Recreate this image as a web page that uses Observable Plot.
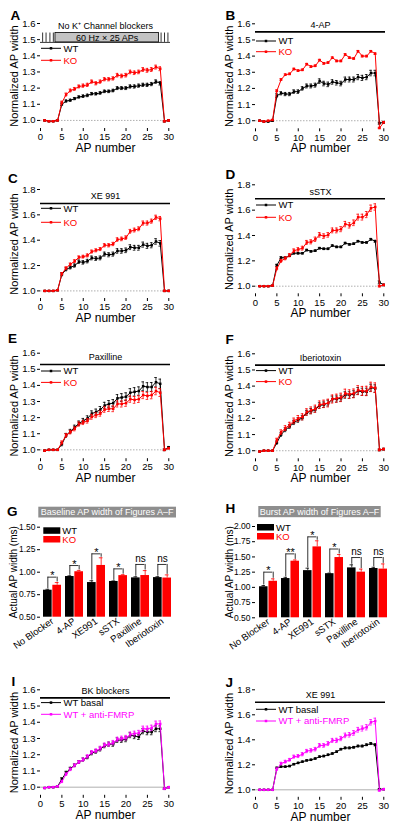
<!DOCTYPE html>
<html><head><meta charset="utf-8">
<script src="https://cdn.jsdelivr.net/npm/d3@7"></script>
<script src="https://cdn.jsdelivr.net/npm/@observablehq/plot@0.6"></script>
<style>
body{margin:0;background:#fff;}
#fig{position:relative;width:400px;height:827px;overflow:hidden;background:#fff;font-family:"Liberation Sans",Arial,sans-serif;}
</style></head><body><div id="fig"></div>
<script>
// ---------- data ----------
const apNumber = [1,2,3,4,5,6,7,8,9,10,11,12,13,14,15,16,17,18,19,20,21,22,23,24,25,26,27,28,29,30];
const xTicks = [0,5,10,15,20,25,30];
const yTicks16 = [1.0,1.1,1.2,1.3,1.4,1.5,1.6];
const yTicks18 = [1.0,1.2,1.4,1.6,1.8];

const A_WT = [1.0,0.995,0.995,1.0,1.10,1.12,1.125,1.135,1.145,1.15,1.155,1.165,1.165,1.17,1.18,1.18,1.185,1.20,1.20,1.20,1.21,1.21,1.215,1.22,1.22,1.225,1.24,1.23,0.995,1.0];
const A_WT_err = [0.003,0.003,0.003,0.003,0.008,0.007,0.007,0.007,0.007,0.008,0.008,0.008,0.008,0.008,0.008,0.008,0.008,0.009,0.009,0.009,0.01,0.01,0.01,0.01,0.01,0.01,0.011,0.011,0.004,0.004];
const A_KO = [1.0,0.995,0.995,1.0,1.11,1.16,1.185,1.195,1.21,1.215,1.22,1.24,1.23,1.24,1.255,1.255,1.26,1.28,1.275,1.28,1.30,1.295,1.30,1.315,1.31,1.315,1.33,1.32,0.995,1.0];
const A_KO_err = [0.003,0.003,0.003,0.003,0.009,0.009,0.009,0.009,0.009,0.01,0.01,0.01,0.01,0.01,0.01,0.01,0.01,0.011,0.011,0.011,0.011,0.011,0.011,0.012,0.012,0.012,0.012,0.012,0.004,0.004];
const A_stimTicks = [0.5,1.3,2.2,3.0,28.2,29.0,29.8];
const A_stimBox = [{x1:3.5, x2:27.7, y1:1.483, y2:1.541, label:"60 Hz \u00d7 25 APs"}];

const B_WT = [1.0,0.995,0.995,1.0,1.155,1.17,1.165,1.165,1.18,1.18,1.20,1.215,1.215,1.22,1.245,1.23,1.225,1.24,1.235,1.23,1.255,1.255,1.255,1.27,1.265,1.27,1.295,1.295,0.985,0.99];
const B_WT_err = [0.004,0.004,0.004,0.004,0.012,0.01,0.01,0.01,0.011,0.011,0.011,0.012,0.012,0.012,0.014,0.014,0.014,0.014,0.014,0.014,0.015,0.015,0.015,0.016,0.016,0.016,0.017,0.017,0.006,0.006];
const B_KO = [1.0,0.995,1.0,1.005,1.185,1.255,1.285,1.29,1.32,1.31,1.315,1.35,1.335,1.34,1.375,1.355,1.36,1.39,1.37,1.37,1.41,1.39,1.385,1.43,1.40,1.40,1.43,1.415,0.955,0.99];
const B_KO_err = [0.003,0.003,0.003,0.003,0.006,0.005,0.005,0.005,0.005,0.005,0.005,0.005,0.005,0.005,0.005,0.005,0.005,0.005,0.005,0.005,0.005,0.005,0.005,0.005,0.005,0.005,0.005,0.005,0.004,0.004];

const C_WT = [1.0,1.0,1.0,1.005,1.13,1.17,1.185,1.20,1.23,1.225,1.235,1.26,1.255,1.26,1.29,1.285,1.29,1.315,1.315,1.32,1.345,1.34,1.34,1.365,1.355,1.36,1.39,1.375,1.0,1.0];
const C_WT_err = [0.003,0.003,0.003,0.003,0.012,0.012,0.012,0.013,0.014,0.014,0.014,0.015,0.015,0.015,0.016,0.016,0.016,0.018,0.018,0.018,0.019,0.019,0.019,0.02,0.02,0.02,0.022,0.022,0.004,0.004];
const C_KO = [1.0,1.0,1.0,1.005,1.135,1.18,1.21,1.235,1.265,1.27,1.28,1.31,1.32,1.33,1.36,1.36,1.37,1.405,1.41,1.42,1.47,1.48,1.49,1.535,1.535,1.55,1.58,1.57,1.0,1.0];
const C_KO_err = [0.003,0.003,0.003,0.003,0.01,0.01,0.01,0.011,0.011,0.011,0.012,0.012,0.012,0.012,0.013,0.013,0.013,0.014,0.014,0.014,0.015,0.015,0.015,0.016,0.016,0.016,0.017,0.017,0.004,0.004];

const D_WT = [1.0,1.0,1.0,1.005,1.165,1.225,1.225,1.24,1.26,1.26,1.26,1.285,1.275,1.28,1.30,1.295,1.295,1.32,1.31,1.31,1.34,1.33,1.335,1.355,1.345,1.345,1.37,1.355,1.03,1.01];
const D_WT_err = [0.003,0.003,0.003,0.003,0.008,0.007,0.007,0.006,0.006,0.006,0.006,0.006,0.006,0.006,0.006,0.006,0.006,0.006,0.006,0.006,0.006,0.006,0.006,0.006,0.006,0.006,0.007,0.007,0.012,0.006];
const D_KO = [1.0,1.0,1.0,1.005,1.14,1.20,1.22,1.245,1.28,1.29,1.30,1.345,1.35,1.37,1.405,1.395,1.405,1.44,1.44,1.45,1.49,1.48,1.50,1.545,1.545,1.565,1.615,1.625,1.0,1.01];
const D_KO_err = [0.003,0.003,0.003,0.003,0.012,0.012,0.012,0.013,0.014,0.014,0.015,0.016,0.016,0.017,0.018,0.018,0.018,0.019,0.019,0.02,0.021,0.021,0.022,0.023,0.023,0.024,0.025,0.025,0.005,0.005];

const E_WT = [0.995,1.0,1.0,1.0,1.035,1.09,1.115,1.14,1.165,1.18,1.195,1.225,1.235,1.25,1.275,1.285,1.29,1.32,1.325,1.33,1.355,1.36,1.365,1.395,1.39,1.39,1.42,1.41,1.0,1.015];
const E_WT_err = [0.003,0.003,0.003,0.003,0.01,0.012,0.012,0.013,0.014,0.015,0.016,0.017,0.018,0.019,0.02,0.021,0.022,0.023,0.024,0.024,0.025,0.026,0.026,0.027,0.027,0.028,0.029,0.029,0.005,0.006];
const E_KO = [0.995,1.0,1.0,1.0,1.045,1.09,1.11,1.13,1.16,1.17,1.18,1.205,1.215,1.225,1.25,1.255,1.255,1.285,1.285,1.29,1.315,1.31,1.315,1.34,1.335,1.34,1.365,1.355,1.0,1.01];
const E_KO_err = [0.003,0.003,0.003,0.003,0.01,0.011,0.011,0.012,0.013,0.013,0.014,0.015,0.015,0.016,0.017,0.017,0.018,0.019,0.019,0.02,0.02,0.021,0.021,0.022,0.022,0.023,0.023,0.024,0.005,0.005];

const F_WT = [0.995,1.0,1.0,1.0,1.05,1.10,1.13,1.15,1.175,1.19,1.205,1.235,1.245,1.255,1.28,1.285,1.295,1.32,1.32,1.325,1.345,1.345,1.35,1.37,1.365,1.365,1.39,1.385,1.005,1.01];
const F_WT_err = [0.003,0.003,0.003,0.003,0.01,0.011,0.012,0.012,0.013,0.014,0.014,0.015,0.016,0.016,0.017,0.017,0.018,0.018,0.019,0.019,0.02,0.02,0.021,0.021,0.022,0.022,0.022,0.023,0.005,0.005];
const F_KO = [0.995,1.0,1.0,1.0,1.065,1.115,1.14,1.16,1.185,1.20,1.21,1.24,1.25,1.26,1.285,1.29,1.295,1.32,1.325,1.33,1.355,1.35,1.355,1.375,1.37,1.37,1.395,1.39,1.005,1.01];
const F_KO_err = [0.003,0.003,0.003,0.003,0.012,0.014,0.015,0.016,0.017,0.018,0.019,0.02,0.021,0.022,0.023,0.023,0.024,0.025,0.025,0.026,0.026,0.027,0.027,0.028,0.028,0.029,0.029,0.03,0.005,0.005];

const I_WT = [0.995,1.0,1.0,1.005,1.05,1.09,1.115,1.135,1.155,1.17,1.185,1.21,1.22,1.235,1.255,1.265,1.265,1.29,1.29,1.295,1.32,1.315,1.31,1.345,1.34,1.34,1.36,1.36,0.99,1.0];
const I_WT_err = [0.003,0.003,0.003,0.003,0.008,0.008,0.008,0.009,0.009,0.01,0.01,0.011,0.011,0.012,0.012,0.013,0.013,0.014,0.014,0.015,0.015,0.016,0.016,0.016,0.017,0.017,0.018,0.018,0.004,0.004];
const I_FM = [0.995,1.0,1.0,1.005,1.035,1.08,1.11,1.135,1.155,1.17,1.19,1.215,1.225,1.24,1.26,1.265,1.275,1.295,1.30,1.305,1.325,1.33,1.335,1.36,1.36,1.365,1.39,1.39,0.99,1.0];
const I_FM_err = [0.003,0.003,0.003,0.003,0.007,0.008,0.008,0.009,0.009,0.01,0.01,0.011,0.011,0.012,0.012,0.013,0.013,0.013,0.014,0.014,0.015,0.015,0.015,0.016,0.016,0.017,0.017,0.018,0.004,0.004];

const J_WT = [1.0,1.0,1.0,1.0,1.175,1.185,1.185,1.19,1.205,1.215,1.225,1.235,1.24,1.25,1.265,1.27,1.28,1.29,1.305,1.325,1.335,1.335,1.34,1.35,1.35,1.36,1.37,1.36,1.005,1.005];
const J_WT_err = [0.003,0.003,0.003,0.003,0.006,0.005,0.005,0.005,0.005,0.005,0.005,0.005,0.005,0.005,0.006,0.006,0.006,0.006,0.006,0.006,0.007,0.007,0.007,0.007,0.007,0.007,0.008,0.008,0.004,0.004];
const J_FM = [1.0,1.0,1.0,1.0,1.165,1.21,1.225,1.24,1.265,1.27,1.285,1.31,1.315,1.325,1.355,1.355,1.37,1.395,1.395,1.41,1.435,1.44,1.455,1.48,1.49,1.50,1.54,1.55,0.995,1.005];
const J_FM_err = [0.003,0.003,0.003,0.003,0.01,0.01,0.011,0.011,0.012,0.012,0.013,0.013,0.014,0.014,0.015,0.015,0.016,0.016,0.017,0.017,0.018,0.018,0.019,0.019,0.02,0.021,0.022,0.023,0.005,0.005];

const cats = ["No Blocker","4-AP","XE991","sSTX","Paxilline","Iberiotoxin"];
const G_WT = [0.80,0.952,0.885,0.897,0.937,0.94];
const G_WT_err = [0.01,0.008,0.02,0.006,0.012,0.01];
const G_KO = [0.855,1.005,1.075,0.962,0.963,0.935];
const G_KO_err = [0.03,0.015,0.085,0.01,0.055,0.035];
const G_sig = ["*","*","*","*","ns","ns"];
const G_bracket = [0.945,1.074,1.204,1.037,1.086,1.086];
const G_yTicks = [0.50,0.75,1.00,1.25,1.50];

const H_WT = [1.01,1.145,1.275,1.225,1.32,1.31];
const H_WT_err = [0.02,0.02,0.04,0.01,0.05,0.02];
const H_KO = [1.10,1.43,1.665,1.49,1.25,1.30];
const H_KO_err = [0.04,0.02,0.1,0.05,0.05,0.085];
const H_sig = ["*","**","*","*","ns","ns"];
const H_bracket = [1.25,1.55,1.83,1.63,1.49,1.49];
const H_yTicks = [0.50,0.75,1.00,1.25,1.50,1.75,2.00];

// ---------- drawing ----------
const RED = "#ff0000", MAG = "#ff00ff", BLK = "#000000";
const FONT = "'Liberation Sans', Arial, Helvetica, sans-serif";
const fig = document.getElementById("fig");
function place(el, left, top) {
  el.style.position = "absolute"; el.style.left = left + "px"; el.style.top = top + "px";
  fig.appendChild(el);
}

function linePanel(c) {
  const marks = [];
  marks.push(Plot.ruleY([1.0], {stroke: "#9a9a9a", strokeWidth: 0.8, strokeDasharray: c.dashed ? "1.5,1.5" : null}));
  if (c.stimBox) {
    const b = c.stimBox[0];
    marks.push(
      Plot.ruleY([b.y1], {stroke: BLK, strokeWidth: 0.8}),
      Plot.ruleX(c.stimTicks, {x: d => d, y1: b.y1, y2: b.y2, stroke: BLK, strokeWidth: 0.8}),
      Plot.rect(c.stimBox, {x1: "x1", x2: "x2", y1: "y1", y2: "y2", fill: "#c4c4c4", stroke: BLK, strokeWidth: 0.8}),
      Plot.text(c.stimBox, {x: d => (d.x1 + d.x2) / 2, y: d => (d.y1 + d.y2) / 2, text: "label", fontSize: 9}),
      Plot.text([c.stimLabel], {y: b.y2, frameAnchor: "middle", dy: -7, text: d => d, fontSize: 9})
    );
  } else {
    marks.push(
      Plot.ruleY([c.stimLevel], {stroke: BLK, strokeWidth: 1.6}),
      Plot.text([c.stimLabel], {y: c.stimLevel, frameAnchor: "middle", dy: -7, text: d => d, fontSize: 9})
    );
  }
  for (const s of c.series) {
    const rows = apNumber.map((x, i) => ({x, y: s.values[i], e: s.err[i]}));
    marks.push(
      Plot.ruleX(rows, {x: "x", y1: d => d.y - d.e, y2: d => d.y + d.e, stroke: s.color, strokeWidth: 0.8}),
      Plot.ruleY(rows, {x1: d => d.x - 0.3, x2: d => d.x + 0.3, y: d => d.y + d.e, stroke: s.color, strokeWidth: 0.8}),
      Plot.ruleY(rows, {x1: d => d.x - 0.3, x2: d => d.x + 0.3, y: d => d.y - d.e, stroke: s.color, strokeWidth: 0.8}),
      Plot.line(rows, {x: "x", y: "y", stroke: s.color, strokeWidth: 1}),
      Plot.dot(rows, {x: "x", y: "y", fill: s.color, symbol: "square", r: 1.4})
    );
  }
  marks.push(
    Plot.axisX({ticks: xTicks, tickSize: 3, tickPadding: 2, fontSize: 9.5, label: null, line: true}),
    Plot.axisY({ticks: c.yTicks, tickSize: 3, tickPadding: 2, fontSize: 9.5, label: null, line: true, tickFormat: d3.format(".1f")}),
    Plot.text(["AP number"], {frameAnchor: "bottom", lineAnchor: "middle", textAnchor: "middle", dy: 19.5, text: d => d, fontSize: 12}),
    Plot.text(["Normalized AP width"], {frameAnchor: "left", lineAnchor: "middle", textAnchor: "middle", rotate: -90, dx: -26.5, text: d => d, fontSize: 11})
  );
  const svg = Plot.plot({
    width: 200, height: 165,
    marginLeft: c.mL, marginRight: c.mR, marginTop: c.mT, marginBottom: c.mB,
    style: {fontFamily: FONT, fontSize: "9.5px", background: "transparent", overflow: "visible", color: "#000"},
    x: {domain: [0, 30.4]},
    y: {domain: c.yDomain},
    marks
  });
  // legend
  const g = d3.select(svg).append("g").attr("text-anchor", "start");
  c.series.forEach((s, i) => {
    const y = c.mT + c.legendDy[i];
    const x0 = c.mL + 1, x1 = c.mL + 21;
    g.append("line").attr("x1", x0).attr("x2", x1).attr("y1", y).attr("y2", y).attr("stroke", s.color).attr("stroke-width", 1);
    g.append("rect").attr("x", (x0 + x1) / 2 - 1.25).attr("y", y - 1.25).attr("width", 2.5).attr("height", 2.5).attr("fill", s.color);
    g.append("text").attr("x", x1 + 2.5).attr("y", y).attr("dy", "0.35em").attr("fill", s.color).attr("text-anchor", "start")
      .attr("font-size", 9.5).attr("font-family", FONT).text(s.name);
  });
  place(svg, c.left, c.top);
}

function barPanel(c) {
  const rows = cats.map((cat, i) => ({cat, wt: c.wt[i], wtE: c.wtE[i], ko: c.ko[i], koE: c.koE[i], sig: c.sig[i], br: c.br[i]}));
  const plotW = 200 - c.mL - c.mR;
  const pi = 0.17, po = 0.085;
  const step = plotW / (cats.length - pi + 2 * po);
  const bw = step * (1 - pi), q = bw / 4, cap = 2.2, gap = 0.006 * (c.yDomain[1] - c.yDomain[0]);
  const base = c.yDomain[0];
  const svg = Plot.plot({
    width: 200, height: 180,
    marginLeft: c.mL, marginRight: c.mR, marginTop: c.mT, marginBottom: c.mB,
    style: {fontFamily: FONT, fontSize: "9px", background: "transparent", overflow: "visible", color: "#000"},
    x: {domain: cats, paddingInner: pi, paddingOuter: po},
    y: {domain: c.yDomain},
    marks: [
      Plot.barY(rows, {x: "cat", y1: base, y2: "wt", fill: BLK, insetRight: bw / 2}),
      Plot.barY(rows, {x: "cat", y1: base, y2: "ko", fill: RED, insetLeft: bw / 2}),
      Plot.ruleX(rows, {x: "cat", y1: "wt", y2: d => d.wt + d.wtE, dx: -q, stroke: BLK, strokeWidth: 0.8}),
      Plot.tickY(rows, {x: "cat", y: d => d.wt + d.wtE, insetLeft: q - cap, insetRight: 3 * q - cap, stroke: BLK, strokeWidth: 0.8}),
      Plot.ruleX(rows, {x: "cat", y1: "ko", y2: d => d.ko + d.koE, dx: q, stroke: RED, strokeWidth: 0.8}),
      Plot.tickY(rows, {x: "cat", y: d => d.ko + d.koE, insetLeft: 3 * q - cap, insetRight: q - cap, stroke: RED, strokeWidth: 0.8}),
      Plot.tickY(rows, {x: "cat", y: "br", insetLeft: q, insetRight: q, stroke: BLK, strokeWidth: 0.8}),
      Plot.ruleX(rows, {x: "cat", y1: d => d.wt + d.wtE + gap, y2: "br", dx: -q, stroke: BLK, strokeWidth: 0.8}),
      Plot.ruleX(rows, {x: "cat", y1: d => d.ko + d.koE + gap, y2: "br", dx: q, stroke: BLK, strokeWidth: 0.8}),
      Plot.text(rows.filter(d => d.sig !== "ns"), {x: "cat", y: "br", text: "sig", dy: 2, fontSize: 11, lineAnchor: "bottom"}),
      Plot.text(rows.filter(d => d.sig === "ns"), {x: "cat", y: "br", text: "sig", dy: -6, fontSize: 10}),
      Plot.axisX({tickRotate: -35, tickSize: 0, tickPadding: 3, fontSize: 9.5, label: null, line: true}),
      Plot.axisY({ticks: c.yTicks, tickSize: 3, tickPadding: 2, fontSize: 8.5, label: null, line: true, tickFormat: d3.format(".2f")}),
      Plot.text(["Actual AP width (ms)"], {frameAnchor: "left", lineAnchor: "middle", textAnchor: "middle", rotate: -90, dx: -c.titleDx, text: d => d, fontSize: 10})
    ]
  });
  const g = d3.select(svg).append("g").attr("text-anchor", "start");
  c.series.forEach((s, i) => {
    const y = c.mT + c.legendDy[i];
    const x0 = c.mL + c.legendX;
    g.append("rect").attr("x", x0).attr("y", y).attr("width", 17).attr("height", 6.5).attr("fill", s.color);
    g.append("text").attr("x", x0 + 19).attr("y", y + 3.25).attr("dy", "0.35em").attr("fill", s.color).attr("text-anchor", "start")
      .attr("font-size", 9.5).attr("font-family", FONT).text(s.name);
  });
  place(svg, c.left, c.top);
}

const wtS = (v, e) => ({name: "WT", color: BLK, values: v, err: e});
const koS = (v, e) => ({name: "KO", color: RED, values: v, err: e});

linePanel({left: 0, top: 0, mL: 40, mR: 30, mT: 23, mB: 37, yDomain: [0.95, 1.6], yTicks: yTicks16, dashed: true,
  stimBox: A_stimBox, stimTicks: A_stimTicks, stimLabel: "No K\u207a Channel blockers",
  series: [wtS(A_WT, A_WT_err), koS(A_KO, A_KO_err)], legendDy: [25.3, 37.3]});
linePanel({left: 200, top: 0, mL: 55, mR: 15, mT: 23.3, mB: 36.7, yDomain: [0.95, 1.6], yTicks: yTicks16, dashed: true,
  stimLevel: 1.55, stimLabel: "4-AP",
  series: [wtS(B_WT, B_WT_err), koS(B_KO, B_KO_err)], legendDy: [17.7, 28.4]});
linePanel({left: 0, top: 165, mL: 40, mR: 30, mT: 24, mB: 32, yDomain: [0.94, 1.8], yTicks: yTicks18, dashed: true,
  stimLevel: 1.69, stimLabel: "XE 991",
  series: [wtS(C_WT, C_WT_err), koS(C_KO, C_KO_err)], legendDy: [19.3, 33.3]});
linePanel({left: 200, top: 165, mL: 55, mR: 15, mT: 19.3, mB: 36.7, yDomain: [0.94, 1.8], yTicks: yTicks18, dashed: true,
  stimLevel: 1.69, stimLabel: "sSTX",
  series: [wtS(D_WT, D_WT_err), koS(D_KO, D_KO_err)], legendDy: [20.7, 33]});
linePanel({left: 0, top: 330, mL: 40, mR: 30, mT: 22.7, mB: 36.8, yDomain: [0.945, 1.6], yTicks: yTicks16, dashed: true,
  stimLevel: 1.53, stimLabel: "Paxilline",
  series: [wtS(E_WT, E_WT_err), koS(E_KO, E_KO_err)], legendDy: [18.3, 29.7]});
linePanel({left: 200, top: 330, mL: 55, mR: 15, mT: 23.3, mB: 36.7, yDomain: [0.95, 1.6], yTicks: yTicks16, dashed: true,
  stimLevel: 1.53, stimLabel: "Iberiotoxin",
  series: [wtS(F_WT, F_WT_err), koS(F_KO, F_KO_err)], legendDy: [17.3, 28.3]});
linePanel({left: 0, top: 660, mL: 40, mR: 30, mT: 29.3, mB: 30.2, yDomain: [0.95, 1.6], yTicks: yTicks16, dashed: false,
  stimLevel: 1.55, stimLabel: "BK blockers",
  series: [{name: "WT basal", color: BLK, values: I_WT, err: I_WT_err}, {name: "WT + anti-FMRP", color: MAG, values: I_FM, err: I_FM_err}],
  legendDy: [13.3, 25]});
linePanel({left: 200, top: 660, mL: 55, mR: 15, mT: 29.3, mB: 28.2, yDomain: [0.94, 1.8], yTicks: yTicks18, dashed: false,
  stimLevel: 1.70, stimLabel: "XE 991",
  series: [{name: "WT basal", color: BLK, values: J_WT, err: J_WT_err}, {name: "WT + anti-FMRP", color: MAG, values: J_FM, err: J_FM_err}],
  legendDy: [20, 31.7]});

barPanel({left: 0, top: 480, mL: 40, mR: 25, mT: 46.7, mB: 43.3, yDomain: [0.5, 1.5], yTicks: G_yTicks, titleDx: 26.7,
  wt: G_WT, wtE: G_WT_err, ko: G_KO, koE: G_KO_err, sig: G_sig, br: G_bracket,
  series: [{name: "WT", color: BLK}, {name: "KO", color: RED}], legendDy: [0.6, 9.3], legendX: 3.3});
barPanel({left: 200, top: 480, mL: 55, mR: 8.3, mT: 46, mB: 42.7, yDomain: [0.5, 2.0], yTicks: H_yTicks, titleDx: 25.7,
  wt: H_WT, wtE: H_WT_err, ko: H_KO, koE: H_KO_err, sig: H_sig, br: H_bracket,
  series: [{name: "WT", color: BLK}, {name: "KO", color: RED}], legendDy: [-2, 7], legendX: 2});

// overlay: panel letters and gray title boxes
const ov = d3.select(fig).append("svg").attr("width", 400).attr("height", 827)
  .style("position", "absolute").style("left", "0px").style("top", "0px").style("pointer-events", "none");
const letters = [["A", 10.5, 19.5], ["B", 225.5, 19.5], ["C", 8, 183.3], ["D", 225.5, 179], ["E", 8, 342.7],
  ["F", 225.5, 344], ["G", 7, 516], ["H", 225.5, 512.7], ["I", 11.5, 686], ["J", 225.5, 686.7]];
ov.selectAll("text.l").data(letters).join("text").attr("class", "l")
  .attr("x", d => d[1]).attr("y", d => d[2]).attr("font-family", FONT).attr("font-weight", "bold")
  .attr("font-size", 13.5).text(d => d[0]);
const boxes = [["Baseline AP width of Figures A\u2013F", 38.3, 506.7, 137.7, 10.8], ["Burst AP width of Figures A\u2013F", 258.3, 506, 122.4, 11.2]];
boxes.forEach(b => {
  ov.append("rect").attr("x", b[1]).attr("y", b[2]).attr("width", b[3]).attr("height", b[4]).attr("fill", "#8e8e8e");
  ov.append("text").attr("x", b[1] + b[3] / 2).attr("y", b[2] + b[4] / 2).attr("dy", "0.36em").attr("text-anchor", "middle")
    .attr("fill", "#fff").attr("font-family", FONT).attr("font-size", 9).text(b[0]);
});
</script></body></html>
